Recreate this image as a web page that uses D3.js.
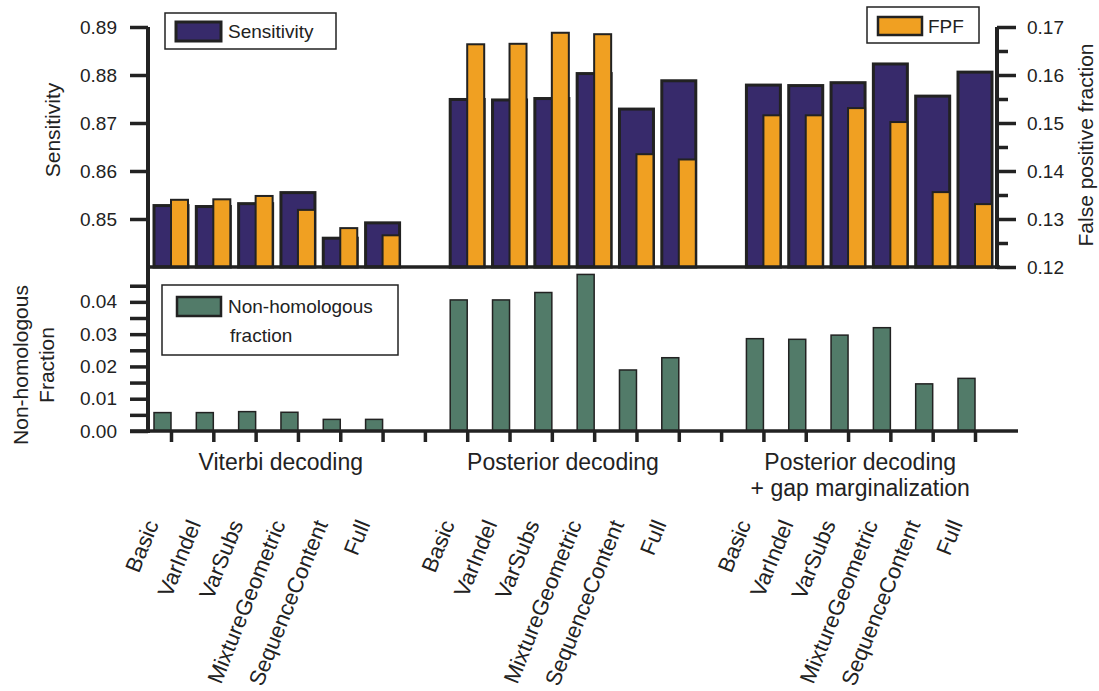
<!DOCTYPE html>
<html><head><meta charset="utf-8">
<script src="https://cdn.jsdelivr.net/npm/d3@7"></script>
<style>
html,body{margin:0;padding:0;background:#fff;}
svg text{font-family:"Liberation Sans",Arial,Helvetica,sans-serif;fill:#222;}
</style></head>
<body>
<svg id="chart" width="1099" height="691"></svg>
<script>
// ---- data ----
const groups = ["Viterbi decoding", "Posterior decoding", "Posterior decoding\n+ gap marginalization"];
const models = ["Basic", "VarIndel", "VarSubs", "MixtureGeometric", "SequenceContent", "Full"];
const sensitivity = [
  [0.8528, 0.8526, 0.8532, 0.8555, 0.8460, 0.8492],
  [0.8749, 0.8748, 0.8751, 0.8803, 0.8729, 0.8788],
  [0.8779, 0.8778, 0.8784, 0.8823, 0.8756, 0.8806]
];
const fpf = [
  [0.1340, 0.1341, 0.1348, 0.1319, 0.1281, 0.1266],
  [0.1664, 0.1665, 0.1688, 0.1685, 0.1435, 0.1424],
  [0.1516, 0.1516, 0.1531, 0.1502, 0.1356, 0.1331]
];
const nonHomologous = [
  [0.0057, 0.0057, 0.0060, 0.0058, 0.0036, 0.0036],
  [0.0406, 0.0406, 0.0429, 0.0485, 0.0189, 0.0227],
  [0.0286, 0.0284, 0.0297, 0.0320, 0.0146, 0.0163]
];
const sensTicks = [0.85, 0.86, 0.87, 0.88, 0.89];
const fpfTicks = [0.12, 0.13, 0.14, 0.15, 0.16, 0.17];
const fpfMinor = [0.125, 0.135, 0.145, 0.155, 0.165];
const nhTicks = [0.00, 0.01, 0.02, 0.03, 0.04];
const nhMinor = [0.005, 0.015, 0.025, 0.035, 0.045];

// ---- colours ----
const cPurple = "#372a6b", cOrange = "#f0a022", cGreen = "#527b69", cInk = "#222";

const svg = d3.select("#chart");

// records
const rows = [];
groups.forEach((g, gi) => models.forEach((m, mi) => rows.push({
  g: gi, m: mi, name: m, slot: gi * 7 + mi,
  sens: sensitivity[gi][mi], fpf: fpf[gi][mi], nh: nonHomologous[gi][mi]
})));

// ---- scales ----
const x = d3.scalePoint().domain(d3.range(20)).range([171, 975]);
const ySens = d3.scaleLinear().domain([0.84, 0.89]).range([267, 27]);
const yFpf = d3.scaleLinear().domain([0.12, 0.17]).range([267, 27]);
const yNh = d3.scaleLinear().domain([0, 0.0508]).range([431, 267]);
const halfW = 17;

// ---- top panel bars ----
svg.append("g").selectAll("rect").data(rows).join("rect")
  .attr("x", d => x(d.slot) - halfW).attr("width", 2 * halfW)
  .attr("y", d => ySens(d.sens)).attr("height", d => 267 - ySens(d.sens))
  .attr("fill", cPurple).attr("stroke", cInk).attr("stroke-width", 3);
svg.append("g").selectAll("rect").data(rows).join("rect")
  .attr("x", d => x(d.slot)).attr("width", halfW)
  .attr("y", d => yFpf(d.fpf)).attr("height", d => 267 - yFpf(d.fpf))
  .attr("fill", cOrange).attr("stroke", cInk).attr("stroke-width", 2);

// ---- bottom panel bars ----
svg.append("g").selectAll("rect").data(rows).join("rect")
  .attr("x", d => x(d.slot) - halfW).attr("width", halfW)
  .attr("y", d => yNh(d.nh)).attr("height", d => 431 - yNh(d.nh))
  .attr("fill", cGreen).attr("stroke", cInk).attr("stroke-width", 1.5);

// ---- axes ----
function styleAxis(g, fs) {
  g.select(".domain").remove();
  g.selectAll(".tick line").attr("stroke", cInk).attr("stroke-width", 3.5);
  g.selectAll(".tick text").attr("font-size", fs).attr("fill", "#222")
    .style("font-family", '"Liberation Sans", Arial, sans-serif');
}
const gSensAx = svg.append("g").attr("transform", "translate(148,0)")
  .call(d3.axisLeft(ySens).tickValues(sensTicks).tickFormat(d3.format(".2f")).tickSize(18).tickPadding(13));
styleAxis(gSensAx, 19);

const gNhAx = svg.append("g").attr("transform", "translate(148,0)")
  .call(d3.axisLeft(yNh).tickValues(nhTicks).tickFormat(d3.format(".2f")).tickSize(18).tickPadding(13));
styleAxis(gNhAx, 19);
const gNhMinor = svg.append("g").attr("transform", "translate(148,0)")
  .call(d3.axisLeft(yNh).tickValues(nhMinor).tickFormat("").tickSize(18));
styleAxis(gNhMinor, 19);

const gFpfAx = svg.append("g").attr("transform", "translate(997,0)")
  .call(d3.axisRight(yFpf).tickValues(fpfTicks).tickFormat(d3.format(".2f")).tickSize(19).tickPadding(11));
styleAxis(gFpfAx, 19);
const gFpfMinor = svg.append("g").attr("transform", "translate(997,0)")
  .call(d3.axisRight(yFpf).tickValues(fpfMinor).tickFormat("").tickSize(11));
styleAxis(gFpfMinor, 19);

const gX = svg.append("g").attr("transform", "translate(0,431)")
  .call(d3.axisBottom(x).tickValues(d3.range(20)).tickFormat("").tickSize(11));
styleAxis(gX, 19);

// axis lines
svg.append("line").attr("x1", 148).attr("x2", 148).attr("y1", 27).attr("y2", 433)
  .attr("stroke", cInk).attr("stroke-width", 4);
svg.append("line").attr("x1", 997).attr("x2", 997).attr("y1", 27).attr("y2", 269)
  .attr("stroke", cInk).attr("stroke-width", 4);
svg.append("line").attr("x1", 148).attr("x2", 1000).attr("y1", 267).attr("y2", 267)
  .attr("stroke", cInk).attr("stroke-width", 3.5);
svg.append("line").attr("x1", 130).attr("x2", 1018).attr("y1", 431).attr("y2", 431)
  .attr("stroke", cInk).attr("stroke-width", 3.5);

// ---- axis titles ----
svg.append("text").attr("transform", "translate(60,130) rotate(-90)")
  .attr("text-anchor", "middle").attr("font-size", 21).text("Sensitivity");
svg.append("text").attr("transform", "translate(28,365) rotate(-90)")
  .attr("text-anchor", "middle").attr("font-size", 21).text("Non-homologous");
svg.append("text").attr("transform", "translate(54,365) rotate(-90)")
  .attr("text-anchor", "middle").attr("font-size", 21).text("Fraction");
svg.append("text").attr("transform", "translate(1093,145) rotate(-90)")
  .attr("text-anchor", "middle").attr("font-size", 21).text("False positive fraction");

// ---- group labels ----
const groupAdj = [4, -10, -9];
groups.forEach((g, gi) => {
  const cx = (x(gi * 7) + x(gi * 7 + 5)) / 2 + groupAdj[gi];
  g.split("\n").forEach((line, li) => {
    svg.append("text").attr("x", cx).attr("y", 470 + li * 26)
      .attr("text-anchor", "middle").attr("font-size", 23).text(line);
  });
});

// ---- rotated model labels ----
svg.append("g").selectAll("text").data(rows).join("text")
  .attr("transform", d => `translate(${x(d.slot) - 12},524) rotate(-68)`)
  .attr("text-anchor", "end").attr("font-size", 22).text(d => d.name);

// ---- legends ----
function legendBox(x0, y0, w, h) {
  svg.append("rect").attr("x", x0).attr("y", y0).attr("width", w).attr("height", h)
    .attr("fill", "#fff").attr("stroke", cInk).attr("stroke-width", 1.5);
}
legendBox(165, 13, 171, 36);
svg.append("rect").attr("x", 176).attr("y", 22).attr("width", 45).attr("height", 19)
  .attr("fill", cPurple).attr("stroke", cInk).attr("stroke-width", 3);
svg.append("text").attr("x", 228).attr("y", 38).attr("font-size", 19).text("Sensitivity");

legendBox(867, 7, 112, 36);
svg.append("rect").attr("x", 878).attr("y", 17).attr("width", 44).attr("height", 18)
  .attr("fill", cOrange).attr("stroke", cInk).attr("stroke-width", 2.5);
svg.append("text").attr("x", 928).attr("y", 33).attr("font-size", 19).text("FPF");

legendBox(162, 285, 236, 70);
svg.append("rect").attr("x", 177).attr("y", 297).attr("width", 44).attr("height", 19)
  .attr("fill", cGreen).attr("stroke", cInk).attr("stroke-width", 2.5);
svg.append("text").attr("x", 228).attr("y", 313).attr("font-size", 19).text("Non-homologous");
svg.append("text").attr("x", 230).attr("y", 342).attr("font-size", 19).text("fraction");
</script>
</body></html>
